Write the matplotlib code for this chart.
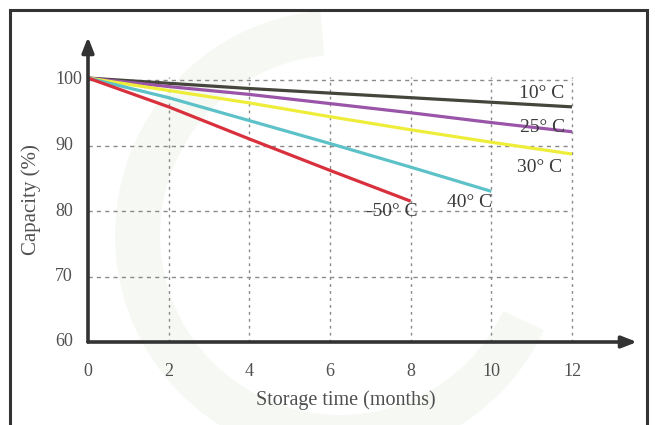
import matplotlib
matplotlib.use("Agg")
import matplotlib.pyplot as plt
from matplotlib.patches import Rectangle, Wedge

# ---- data ----
months = [0, 2, 4, 6, 8, 10, 12]
cap_10 = [100.3, 99.5, 98.7, 98.0, 97.3, 96.6, 95.9]
cap_25 = [100.3, 99.0, 97.8, 96.4, 95.0, 93.5, 92.1]
cap_30 = [100.3, 98.4, 96.5, 94.4, 92.4, 90.5, 88.7]
cap_40 = [100.3, 97.3, 93.8, 90.3, 86.7, 83.0]
cap_50 = [100.3, 95.9, 91.0, 86.2, 81.5]
series_labels = ["10° C", "25° C", "30° C", "40° C", "-50° C"]
xticks = [0, 2, 4, 6, 8, 10, 12]
yticks = [60, 70, 80, 90, 100]
grid_x = [2, 4, 6, 8, 10, 12]
grid_y = [70, 80, 90, 100]

plt.rcParams['font.family'] = ['Liberation Serif', 'DejaVu Serif']

W, H = 655, 425
fig = plt.figure(figsize=(W / 100, H / 100), dpi=100)
fig.patch.set_facecolor('white')

# faint watermark ring
wm = Wedge((340 / 100, (H - 235) / 100), 2.25, 95, 335, width=0.45,
           transform=fig.dpi_scale_trans, facecolor='#f6f8f4', edgecolor='none', zorder=0)
fig.add_artist(wm)

# outer frame
fig.add_artist(Rectangle((10 / W, -0.05), (647 - 10) / W, 1 - 10 / H + 0.05,
                         transform=fig.transFigure, fill=False, lw=2.2,
                         edgecolor='#333333', zorder=5))

x0, x1 = 88, 637
y0, y1 = 342, 37
ax = fig.add_axes([x0 / W, 1 - y0 / H, (x1 - x0) / W, (y0 - y1) / H])
ax.patch.set_alpha(0)
px_per_month = (572 - 88) / 12
px_per_unit = (342 - 80) / 40
ax.set_xlim(0, (x1 - x0) / px_per_month)
ax.set_ylim(60, 60 + (y0 - y1) / px_per_unit)
for s in ax.spines.values():
    s.set_visible(False)
ax.set_xticks([])
ax.set_yticks([])

# grid
ax.hlines(grid_y, 0, 12, colors='#8a8a8a', linestyles=(0, (3, 3)), lw=1.0, zorder=1)
ax.vlines(grid_x, 60, 100.5, colors='#8a8a8a', linestyles=(0, (2, 3)), lw=1.0, zorder=1)

# series
cols = ['#45453c', '#9a55a8', '#eeee3a', '#5cc2c8', '#d8303c']
data = [cap_10, cap_25, cap_30, cap_40, cap_50]
for d, c in zip(data, cols):
    ax.plot(months[:len(d)], d, color=c, lw=2.3, solid_capstyle='butt', zorder=3)

# labels near curves
lab_pos = [(542, 94), (543, 128), (540, 167), (470, 202), (392, 212)]
for t, (px, py) in zip(series_labels, lab_pos):
    fig.text(px / W, 1 - py / H, t, ha='center', va='center', fontsize=14,
             color='#3a3a3a', zorder=6)

# axes arrows
arrow_kw = dict(arrowstyle='-|>,head_length=0.9,head_width=0.35', lw=2.6,
                color='#333333', shrinkA=0, shrinkB=0)
ax.annotate('', xy=(1, 0), xytext=(0, 0), xycoords='axes fraction', arrowprops=arrow_kw)
ax.annotate('', xy=(0, 1), xytext=(0, 0), xycoords='axes fraction', arrowprops=arrow_kw)

# tick labels
for v in xticks:
    fig.text((x0 + v * px_per_month) / W, 1 - 372 / H, str(v), ha='center', va='center',
             fontsize=13, color='#505050')
for v in yticks:
    fig.text(55 / W, 1 - (342 - (v - 60) * px_per_unit) / H, str(v), ha='left', va='center',
             fontsize=13, color='#505050')

fig.text(346 / W, 1 - 400 / H, 'Storage time (months)', ha='center', va='center',
         fontsize=14.5, color='#505050')
fig.text(31 / W, 1 - 200 / H, 'Capacity (%)', ha='center', va='center', rotation=90,
         fontsize=15, color='#505050')

fig.savefig('out.png', dpi=100)
